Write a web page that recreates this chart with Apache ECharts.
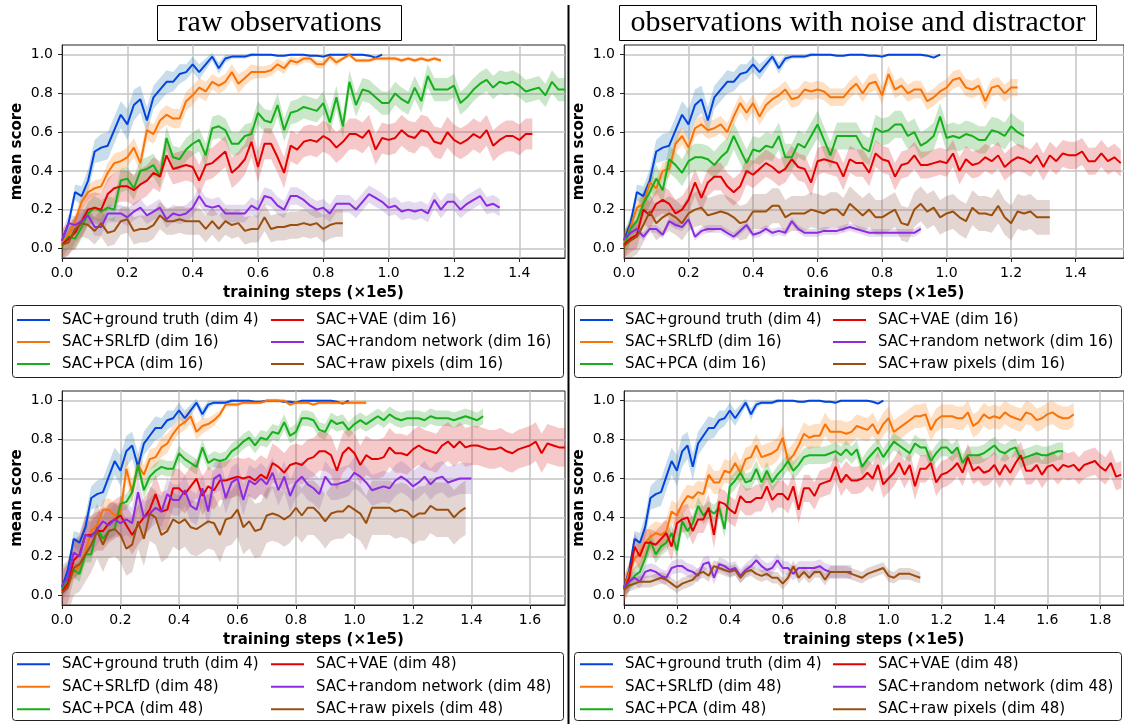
<!DOCTYPE html>
<html>
<head>
<meta charset="utf-8">
<script src="https://cdn.jsdelivr.net/npm/echarts@6/dist/echarts.min.js"></script>
<style>
  html, body { margin: 0; padding: 0; background: #fff; }
  #chart { width: 1124px; height: 724px; }
</style>
</head>
<body>
<div id="chart"></div>
<script>
// x step between logged evaluations (in 1e5 training steps)
const step = 0.02

// ground truth run, same in every panel
const groundTruth = [0.04,0.13,0.29,0.27,0.35,0.50,0.52,0.53,0.61,0.69,
  0.64,0.74,0.77,0.66,0.78,0.82,0.86,0.86,0.90,0.91,
  0.95,0.91,0.95,0.99,0.93,0.98,0.99,0.99,0.99,1.0,
  1.0,1.0,1.0,0.995,0.995,1.0,1.0,1.0,0.995,0.995,
  0.99,1.0,1.0,1.0,1.0,1.0,1.0,0.995,0.985,1.0]
const groundTruthBand = [0.01,0.02,0.04,0.05,0.06,0.06,0.07,0.07,0.07,0.07,
  0.08,0.08,0.07,0.07,0.06,0.06,0.06,0.05,0.05,0.04,
  0.04,0.04,0.03,0.02,0.03,0.02,0.01,0.01,0.01,0.01,
  0.005,0.005,0.005,0.005,0.005,0.005,0.005,0.005,0.005,0.005,
  0.005,0.005,0.005,0.005,0.005,0.005,0.005,0.005,0.005,0.005]

// top left: raw observations, dim 16
const tlSRLfD = [0.03,0.07,0.14,0.24,0.29,0.31,0.32,0.39,0.44,0.45,
  0.47,0.52,0.44,0.61,0.59,0.66,0.69,0.67,0.67,0.76,
  0.79,0.83,0.81,0.86,0.84,0.86,0.91,0.85,0.88,0.91,
  0.91,0.91,0.92,0.95,0.93,0.97,0.96,0.98,0.98,0.95,
  0.95,0.99,0.96,0.98,1.0,0.97,0.97,0.97,0.98,0.98,
  0.98,0.98,0.97,0.98,0.97,0.98,0.97,0.98,0.97]
const tlSRLfDBand = [0.01,0.02,0.03,0.04,0.04,0.04,0.04,0.05,0.05,0.05,
  0.05,0.05,0.05,0.05,0.05,0.05,0.05,0.05,0.05,0.05,
  0.05,0.05,0.05,0.04,0.04,0.04,0.04,0.05,0.04,0.04,
  0.03,0.03,0.03,0.03,0.03,0.02,0.02,0.02,0.02,0.02,
  0.02,0.02,0.02,0.01,0.01,0.01,0.01,0.01,0.01,0.01,
  0.01,0.01,0.01,0.01,0.01,0.01,0.01,0.01,0.01]
const tlPCA = [0.01,0.06,0.05,0.11,0.18,0.21,0.19,0.21,0.20,0.35,
  0.36,0.31,0.40,0.41,0.43,0.37,0.57,0.47,0.46,0.51,
  0.54,0.56,0.48,0.62,0.63,0.61,0.54,0.54,0.58,0.59,
  0.70,0.66,0.65,0.74,0.61,0.70,0.71,0.73,0.72,0.71,
  0.75,0.65,0.78,0.63,0.86,0.74,0.82,0.81,0.78,0.75,
  0.75,0.80,0.77,0.75,0.83,0.76,0.89,0.82,0.82,0.82,
  0.84,0.75,0.78,0.82,0.85,0.87,0.83,0.86,0.85,0.86,
  0.84,0.81,0.82,0.83,0.79,0.86,0.82,0.82]
const tlVAE = [0.02,0.05,0.08,0.14,0.20,0.21,0.20,0.28,0.31,0.32,
  0.32,0.30,0.33,0.35,0.39,0.37,0.48,0.41,0.42,0.43,
  0.42,0.35,0.43,0.44,0.47,0.50,0.39,0.42,0.46,0.55,
  0.42,0.54,0.54,0.47,0.39,0.53,0.51,0.55,0.56,0.55,
  0.58,0.56,0.52,0.55,0.59,0.59,0.57,0.61,0.51,0.57,
  0.56,0.57,0.61,0.58,0.57,0.61,0.60,0.55,0.54,0.60,
  0.56,0.54,0.56,0.59,0.57,0.61,0.53,0.56,0.58,0.58,
  0.56,0.59,0.59]
const tlRandom = [0.04,0.13,0.12,0.14,0.17,0.11,0.11,0.18,0.18,0.18,
  0.16,0.19,0.21,0.17,0.19,0.21,0.15,0.18,0.17,0.18,
  0.21,0.27,0.22,0.21,0.22,0.18,0.18,0.18,0.18,0.22,
  0.20,0.27,0.26,0.22,0.20,0.27,0.27,0.25,0.22,0.20,
  0.21,0.18,0.23,0.23,0.23,0.20,0.24,0.28,0.26,0.24,
  0.21,0.22,0.19,0.20,0.19,0.20,0.18,0.25,0.20,0.24,
  0.24,0.20,0.23,0.25,0.27,0.22,0.23,0.21]
const tlPixels = [0.02,0.03,0.10,0.13,0.12,0.09,0.13,0.08,0.09,0.14,
  0.15,0.09,0.10,0.10,0.12,0.17,0.14,0.14,0.15,0.14,
  0.14,0.14,0.10,0.14,0.10,0.14,0.12,0.13,0.09,0.10,
  0.10,0.16,0.10,0.11,0.11,0.12,0.12,0.13,0.12,0.13,
  0.10,0.12,0.13,0.13]

// top right: noise and distractor, dim 16
const trSRLfD = [0.02,0.11,0.21,0.23,0.34,0.31,0.40,0.41,0.54,0.58,
  0.52,0.62,0.64,0.61,0.62,0.64,0.60,0.68,0.75,0.70,
  0.75,0.68,0.74,0.77,0.79,0.82,0.77,0.78,0.82,0.81,
  0.82,0.81,0.78,0.78,0.78,0.82,0.85,0.80,0.85,0.86,
  0.79,0.90,0.82,0.84,0.80,0.82,0.82,0.76,0.78,0.81,
  0.83,0.87,0.88,0.83,0.82,0.84,0.76,0.83,0.84,0.80,
  0.83,0.83]
const trPCA = [0.01,0.10,0.14,0.23,0.29,0.36,0.30,0.46,0.43,0.39,
  0.45,0.47,0.47,0.46,0.43,0.47,0.50,0.58,0.51,0.44,
  0.51,0.50,0.53,0.52,0.58,0.47,0.47,0.54,0.52,0.58,
  0.64,0.56,0.48,0.58,0.58,0.58,0.58,0.52,0.50,0.62,
  0.60,0.61,0.64,0.64,0.58,0.60,0.53,0.55,0.58,0.68,
  0.57,0.58,0.57,0.59,0.58,0.56,0.56,0.61,0.60,0.58,
  0.63,0.60,0.58]
const trVAE = [0.02,0.05,0.07,0.20,0.17,0.23,0.25,0.23,0.18,0.20,
  0.25,0.34,0.26,0.34,0.37,0.37,0.32,0.29,0.32,0.40,
  0.38,0.41,0.44,0.42,0.39,0.41,0.46,0.42,0.41,0.34,
  0.45,0.46,0.45,0.44,0.37,0.46,0.44,0.44,0.39,0.49,
  0.46,0.45,0.37,0.43,0.44,0.48,0.43,0.43,0.44,0.45,
  0.44,0.49,0.40,0.46,0.43,0.44,0.47,0.45,0.48,0.42,
  0.45,0.47,0.46,0.44,0.48,0.42,0.48,0.45,0.49,0.48,
  0.48,0.50,0.45,0.45,0.49,0.45,0.47,0.44]
const trRandom = [0.05,0.08,0.10,0.06,0.10,0.10,0.07,0.14,0.12,0.11,
  0.15,0.06,0.09,0.10,0.10,0.10,0.08,0.06,0.09,0.12,
  0.07,0.08,0.10,0.08,0.09,0.08,0.14,0.10,0.08,0.08,
  0.08,0.09,0.09,0.09,0.10,0.11,0.10,0.09,0.08,0.08,
  0.08,0.08,0.08,0.08,0.08,0.08,0.10]
const trPixels = [0.01,0.04,0.06,0.12,0.19,0.13,0.16,0.18,0.16,0.13,
  0.18,0.20,0.21,0.17,0.18,0.19,0.18,0.16,0.13,0.14,
  0.19,0.19,0.19,0.22,0.22,0.16,0.18,0.18,0.18,0.20,
  0.19,0.18,0.20,0.20,0.17,0.23,0.20,0.17,0.20,0.16,
  0.16,0.18,0.20,0.13,0.12,0.20,0.23,0.19,0.21,0.16,
  0.18,0.19,0.16,0.14,0.21,0.18,0.18,0.17,0.22,0.16,
  0.13,0.19,0.18,0.19,0.16,0.16,0.16]

// bottom left: raw observations, dim 48
const blSRLfD = [0.03,0.07,0.12,0.15,0.22,0.33,0.36,0.44,0.44,0.41,
  0.42,0.65,0.53,0.67,0.62,0.70,0.71,0.76,0.78,0.83,
  0.87,0.89,0.92,0.84,0.87,0.88,0.90,0.93,0.98,0.98,
  0.98,0.99,0.99,0.99,0.99,1.0,1.0,1.0,1.0,0.98,
  0.99,0.99,0.99,0.98,0.99,0.99,0.99,0.99,0.99,0.99,
  0.99,0.99,0.99]
const blSRLfDBand = [0.01,0.02,0.03,0.04,0.05,0.05,0.05,0.05,0.06,0.06,
  0.06,0.06,0.06,0.06,0.05,0.05,0.05,0.05,0.05,0.04,
  0.04,0.04,0.04,0.04,0.04,0.03,0.03,0.02,0.01,0.01,
  0.01,0.01,0.01,0.01,0.01,0.01,0.01,0.01,0.01,0.01,
  0.01,0.01,0.01,0.01,0.01,0.01,0.01,0.01,0.01,0.01,
  0.01,0.01,0.01]
const blPCA = [0.03,0.07,0.13,0.11,0.21,0.21,0.35,0.29,0.33,0.34,
  0.47,0.48,0.53,0.67,0.54,0.61,0.64,0.66,0.65,0.65,
  0.73,0.70,0.68,0.66,0.76,0.68,0.70,0.69,0.70,0.74,
  0.76,0.79,0.81,0.77,0.81,0.80,0.84,0.83,0.89,0.82,
  0.84,0.91,0.91,0.90,0.85,0.84,0.90,0.88,0.89,0.85,
  0.88,0.90,0.88,0.90,0.92,0.90,0.93,0.91,0.90,0.91,
  0.91,0.91,0.90,0.92,0.91,0.91,0.91,0.90,0.91,0.92,
  0.91,0.90,0.92]
const blVAE = [0.02,0.06,0.18,0.21,0.31,0.31,0.33,0.33,0.37,0.39,
  0.41,0.36,0.31,0.36,0.40,0.44,0.52,0.43,0.44,0.55,
  0.55,0.52,0.56,0.60,0.51,0.56,0.54,0.59,0.59,0.60,
  0.61,0.60,0.61,0.59,0.62,0.60,0.68,0.66,0.63,0.67,
  0.68,0.67,0.70,0.71,0.74,0.74,0.72,0.64,0.73,0.76,
  0.73,0.67,0.72,0.70,0.70,0.71,0.76,0.73,0.73,0.72,
  0.75,0.77,0.75,0.74,0.73,0.77,0.79,0.76,0.79,0.76,
  0.77,0.77,0.76,0.75,0.75,0.76,0.74,0.73,0.75,0.76,
  0.77,0.79,0.73,0.78,0.77,0.76,0.76]
const blRandom = [0.05,0.09,0.22,0.20,0.31,0.30,0.34,0.38,0.36,0.39,
  0.37,0.39,0.37,0.53,0.40,0.42,0.45,0.43,0.52,0.49,
  0.49,0.54,0.46,0.44,0.55,0.43,0.60,0.62,0.50,0.58,
  0.60,0.49,0.59,0.57,0.60,0.57,0.63,0.54,0.61,0.51,
  0.58,0.61,0.57,0.55,0.52,0.61,0.57,0.57,0.58,0.59,
  0.63,0.61,0.58,0.54,0.55,0.56,0.55,0.59,0.61,0.59,
  0.56,0.58,0.61,0.57,0.60,0.61,0.58,0.59,0.60,0.60,
  0.60]
const blPixels = [0.01,0.04,0.14,0.16,0.21,0.26,0.33,0.26,0.33,0.34,
  0.31,0.24,0.26,0.38,0.29,0.42,0.40,0.31,0.33,0.39,
  0.37,0.39,0.35,0.34,0.36,0.38,0.37,0.31,0.39,0.40,
  0.44,0.35,0.38,0.33,0.34,0.41,0.42,0.41,0.39,0.41,
  0.45,0.41,0.45,0.45,0.42,0.38,0.42,0.43,0.43,0.46,
  0.44,0.42,0.37,0.45,0.45,0.45,0.45,0.43,0.44,0.43,
  0.40,0.42,0.42,0.46,0.44,0.44,0.44,0.40,0.43,0.45]

// bottom right: noise and distractor, dim 48
const brSRLfD = [0.03,0.12,0.19,0.22,0.27,0.30,0.32,0.31,0.33,0.43,
  0.41,0.47,0.51,0.50,0.53,0.52,0.62,0.58,0.58,0.64,
  0.63,0.68,0.63,0.70,0.71,0.77,0.71,0.72,0.73,0.75,
  0.81,0.69,0.72,0.77,0.83,0.81,0.82,0.82,0.88,0.84,
  0.84,0.84,0.83,0.84,0.87,0.86,0.85,0.88,0.83,0.88,
  0.91,0.84,0.86,0.88,0.90,0.92,0.92,0.93,0.85,0.90,
  0.92,0.92,0.92,0.91,0.91,0.94,0.87,0.89,0.93,0.91,
  0.92,0.91,0.94,0.92,0.91,0.90,0.94,0.93,0.90,0.91,
  0.93,0.94,0.92,0.91,0.91,0.93]
const brPCA = [0.03,0.07,0.10,0.12,0.19,0.28,0.21,0.25,0.27,0.32,
  0.23,0.38,0.33,0.37,0.46,0.41,0.44,0.42,0.45,0.34,
  0.56,0.59,0.63,0.58,0.59,0.65,0.58,0.64,0.58,0.62,
  0.65,0.69,0.64,0.67,0.71,0.72,0.72,0.72,0.72,0.73,
  0.74,0.72,0.75,0.72,0.75,0.66,0.70,0.73,0.76,0.71,
  0.75,0.79,0.77,0.75,0.73,0.78,0.76,0.76,0.69,0.73,
  0.76,0.76,0.73,0.76,0.68,0.72,0.72,0.72,0.73,0.75,
  0.77,0.74,0.73,0.75,0.76,0.70,0.71,0.72,0.73,0.72,
  0.72,0.73,0.74,0.74]
const brVAE = [0.03,0.09,0.25,0.20,0.27,0.27,0.26,0.29,0.32,0.25,
  0.37,0.39,0.40,0.33,0.39,0.39,0.45,0.31,0.48,0.47,
  0.44,0.42,0.51,0.48,0.48,0.50,0.50,0.56,0.49,0.52,
  0.52,0.49,0.56,0.44,0.55,0.55,0.51,0.57,0.58,0.59,
  0.66,0.58,0.62,0.59,0.59,0.60,0.63,0.60,0.67,0.57,
  0.60,0.63,0.68,0.62,0.67,0.56,0.65,0.65,0.68,0.58,
  0.62,0.63,0.65,0.68,0.63,0.71,0.64,0.66,0.63,0.64,
  0.67,0.62,0.67,0.63,0.68,0.72,0.64,0.64,0.67,0.62,
  0.66,0.67,0.64,0.67,0.66,0.67,0.64,0.67,0.68,0.69,
  0.66,0.64,0.68,0.61,0.62]
const brRandom = [0.04,0.07,0.09,0.07,0.12,0.13,0.12,0.10,0.09,0.14,
  0.15,0.15,0.13,0.12,0.10,0.16,0.17,0.09,0.16,0.15,
  0.13,0.14,0.10,0.13,0.15,0.18,0.15,0.13,0.14,0.18,
  0.14,0.14,0.11,0.14,0.14,0.14,0.14,0.15,0.13,0.12,
  0.12,0.12,0.12,0.12]
const brPixels = [0.03,0.05,0.06,0.07,0.07,0.07,0.08,0.09,0.08,0.06,
  0.04,0.06,0.07,0.08,0.11,0.12,0.10,0.15,0.14,0.13,
  0.12,0.13,0.09,0.12,0.13,0.11,0.10,0.11,0.09,0.09,
  0.06,0.09,0.15,0.09,0.12,0.09,0.12,0.12,0.08,0.12,
  0.12,0.12,0.12,0.11,0.10,0.09,0.11,0.12,0.13,0.14,
  0.10,0.09,0.11,0.11,0.11,0.10,0.09]

// half widths of the shaded bands where they stay about constant
const tlBands = [0.06, 0.08, 0.045, 0.07]
const trBands = [0.045, 0.07, 0.07, 0.02, 0.09]
const blBands = [0.04, 0.1, 0.08, 0.14]
const brBands = [0.06, 0.045, 0.07, 0.035, 0.03]

const names16 = ['SAC+ground truth (dim 4)', 'SAC+SRLfD (dim 16)', 'SAC+PCA (dim 16)',
  'SAC+VAE (dim 16)', 'SAC+random network (dim 16)', 'SAC+raw pixels (dim 16)']
const names48 = ['SAC+ground truth (dim 4)', 'SAC+SRLfD (dim 48)', 'SAC+PCA (dim 48)',
  'SAC+VAE (dim 48)', 'SAC+random network (dim 48)', 'SAC+raw pixels (dim 48)']
const yTicks = [0, 0.2, 0.4, 0.6, 0.8, 1.0]
const xTicksTop = [0, 0.2, 0.4, 0.6, 0.8, 1.0, 1.2, 1.4]
const xTicksBL = [0, 0.2, 0.4, 0.6, 0.8, 1.0, 1.2, 1.4, 1.6]
const xTicksBR = [0, 0.2, 0.4, 0.6, 0.8, 1.0, 1.2, 1.4, 1.6, 1.8]

const lineColors = ['#0343df', '#f97306', '#15b01a', '#e50000', '#8b2be2', '#9c4f0c']
const bandColors = ['rgba(31,119,180,0.25)', 'rgba(255,127,14,0.25)', 'rgba(44,160,44,0.25)',
  'rgba(214,39,40,0.25)', 'rgba(148,103,189,0.25)', 'rgba(140,86,75,0.25)']

const panels = [
  { grid: { left: 62, top: 45, width: 503, height: 213 }, xMax: 1.54, xTicks: xTicksTop, names: names16,
    runs: [[groundTruth, groundTruthBand], [tlSRLfD, tlSRLfDBand], [tlPCA, tlBands[0]], [tlVAE, tlBands[1]], [tlRandom, tlBands[2]], [tlPixels, tlBands[3]]],
    legend: [17, 271, 309, 22] },
  { grid: { left: 624, top: 45, width: 500, height: 213 }, xMax: 1.55, xTicks: xTicksTop, names: names16,
    runs: [[groundTruth, groundTruthBand], [trSRLfD, trBands[0]], [trPCA, trBands[1]], [trVAE, trBands[2]], [trRandom, trBands[3]], [trPixels, trBands[4]]],
    legend: [580, 833, 309, 22] },
  { grid: { left: 62, top: 391, width: 503, height: 214 }, xMax: 1.72, xTicks: xTicksBL, names: names48,
    runs: [[groundTruth, groundTruthBand], [blSRLfD, blSRLfDBand], [blPCA, blBands[0]], [blVAE, blBands[1]], [blRandom, blBands[2]], [blPixels, blBands[3]]],
    legend: [17, 271, 653, 22.5] },
  { grid: { left: 624, top: 391, width: 500, height: 214 }, xMax: 1.89, xTicks: xTicksBR, names: names48,
    runs: [[groundTruth, groundTruthBand], [brSRLfD, brBands[0]], [brPCA, brBands[1]], [brVAE, brBands[2]], [brRandom, brBands[3]], [brPixels, brBands[4]]],
    legend: [580, 833, 653, 22.5] }
]

const font = 'DejaVu Sans'

function bandSeries (vals, band, color, gi) {
  return {
    type: 'custom',
    xAxisIndex: gi,
    yAxisIndex: gi,
    silent: true,
    z: 1,
    data: [[0, 0]],
    encode: { x: 0, y: 1 },
    renderItem: function (params, api) {
      let upper = []
      let lower = []
      vals.forEach(function (v, i) {
        let b = Array.isArray(band) ? band[i] : band
        upper.push(api.coord([i * step, v + b]))
        lower.unshift(api.coord([i * step, v - b]))
      })
      let cs = params.coordSys
      return {
        type: 'polygon',
        shape: { points: upper.concat(lower) },
        style: { fill: color },
        clipPath: { type: 'rect', shape: { x: cs.x, y: cs.y, width: cs.width, height: cs.height } }
      }
    }
  }
}

let grids = []
let xAxes = []
let yAxes = []
let series = []
let legends = []

panels.forEach(function (p, gi) {
  grids.push(Object.assign({ show: true, borderColor: '#222', borderWidth: 1, backgroundColor: '#fff', outerBoundsMode: 'none', containLabel: false }, p.grid))
  xAxes.push({
    type: 'value', gridIndex: gi, min: 0, max: p.xMax,
    name: 'training steps (×1e5)', nameLocation: 'middle', nameGap: 28,
    nameTextStyle: { fontFamily: font, fontSize: 15, fontWeight: 'bold', color: '#000' },
    axisLine: { show: true, onZero: false, lineStyle: { color: '#222', width: 1 } },
    axisTick: { show: true, length: 4, customValues: p.xTicks, lineStyle: { color: '#222' } },
    axisLabel: { customValues: p.xTicks, margin: 8, fontFamily: font, fontSize: 14, color: '#000', formatter: v => v.toFixed(1) },
    splitLine: { show: true, lineStyle: { color: '#c4c4c4', width: 1.5 } }
  })
  yAxes.push({
    type: 'value', gridIndex: gi, min: -0.05, max: 1.05,
    name: 'mean score', nameLocation: 'middle', nameGap: 37, nameRotate: 90,
    nameTextStyle: { fontFamily: font, fontSize: 15, fontWeight: 'bold', color: '#000' },
    axisLine: { show: true, onZero: false, lineStyle: { color: '#222', width: 1 } },
    axisTick: { show: true, length: 4, customValues: yTicks, lineStyle: { color: '#222' } },
    axisLabel: { customValues: yTicks, margin: 9, fontFamily: font, fontSize: 14, color: '#000', formatter: v => v.toFixed(1) },
    splitLine: { show: true, lineStyle: { color: '#c4c4c4', width: 1.5 } }
  })
  p.runs.forEach(function (run, k) {
    series.push(bandSeries(run[0], run[1], bandColors[k], gi))
  })
  p.runs.forEach(function (run, k) {
    series.push({
      type: 'line', name: p.names[k], xAxisIndex: gi, yAxisIndex: gi,
      data: run[0].map((v, i) => [i * step, v]),
      showSymbol: false, symbol: 'none', z: 3, clip: true,
      lineStyle: { width: 2, color: lineColors[k] },
      itemStyle: { color: lineColors[k] }
    })
  })
  let legendBase = {
    orient: 'vertical', icon: 'rect', itemWidth: 33, itemHeight: 2, itemGap: 0, padding: 0,
    top: p.legend[2],
    textStyle: { fontFamily: font, fontSize: 15, lineHeight: p.legend[3], color: '#000', padding: [0, 0, 0, 7] }
  }
  legends.push(Object.assign({ left: p.legend[0], data: p.names.slice(0, 3) }, legendBase))
  legends.push(Object.assign({ left: p.legend[1], data: p.names.slice(3) }, legendBase))
})

const titleFont = '30px "Liberation Serif"'

let chart = echarts.init(document.getElementById('chart'), null, { renderer: 'canvas' })
chart.setOption({
  animation: false,
  backgroundColor: '#fff',
  textStyle: { fontFamily: font },
  grid: grids,
  xAxis: xAxes,
  yAxis: yAxes,
  legend: legends,
  series: series,
  graphic: [
    { type: 'rect', shape: { x: 157.5, y: 5.5, width: 244, height: 35 }, style: { fill: '#fff', stroke: '#000', lineWidth: 1 } },
    { type: 'text', x: 279.5, y: 23, style: { text: 'raw observations', font: titleFont, fill: '#000', align: 'center', verticalAlign: 'middle' } },
    { type: 'rect', shape: { x: 619.5, y: 5.5, width: 477, height: 35 }, style: { fill: '#fff', stroke: '#000', lineWidth: 1 } },
    { type: 'text', x: 858, y: 23, style: { text: 'observations with noise and distractor', font: titleFont, fill: '#000', align: 'center', verticalAlign: 'middle' } },
    { type: 'line', shape: { x1: 568.5, y1: 5, x2: 568.5, y2: 724 }, style: { stroke: '#000', lineWidth: 2 } },
    { type: 'rect', shape: { x: 12.5, y: 305.5, width: 551, height: 72, r: 3 }, style: { fill: 'none', stroke: '#222', lineWidth: 1 } },
    { type: 'rect', shape: { x: 574.5, y: 305.5, width: 547, height: 72, r: 3 }, style: { fill: 'none', stroke: '#222', lineWidth: 1 } },
    { type: 'rect', shape: { x: 12.5, y: 652.5, width: 551, height: 68, r: 3 }, style: { fill: 'none', stroke: '#222', lineWidth: 1 } },
    { type: 'rect', shape: { x: 574.5, y: 652.5, width: 547, height: 68, r: 3 }, style: { fill: 'none', stroke: '#222', lineWidth: 1 } }
  ]
})
</script>
</body>
</html>
